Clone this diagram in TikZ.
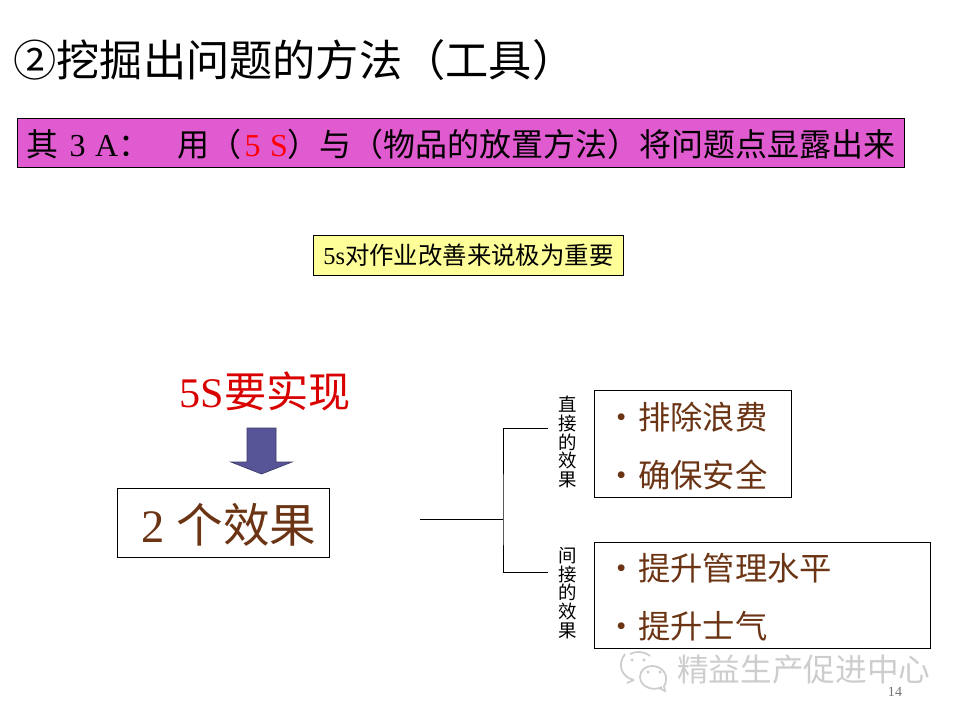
\documentclass[tikz,border=0pt]{standalone}
\usepackage{fontspec}
\setmainfont{Liberation Serif}
\newfontfamily\cjk{Noto Sans CJK SC}
\usetikzlibrary{positioning,calc}
\definecolor{BannerPink}{RGB}{224,90,208}
\definecolor{NoteYellow}{RGB}{255,255,153}
\definecolor{EffectBrown}{RGB}{107,52,20}
\definecolor{ArrowBlue}{RGB}{88,84,152}
\definecolor{MarkGray}{RGB}{205,205,205}
\tikzset{
  frame/.style={draw=black,line width=0.55pt,inner sep=0pt},
  banner/.style={frame,fill=BannerPink,minimum width=17.76cm,minimum height=0.98cm,font=\fontsize{18.2}{22}\selectfont},
  note/.style={frame,fill=NoteYellow,minimum width=6.22cm,minimum height=0.8cm,font=\fontsize{13.9}{16}\selectfont},
  item/.style={anchor=west,inner sep=0pt,text=EffectBrown,font=\cjk\fontsize{18.4}{22}\selectfont},
  vlab/.style={inner sep=0pt,align=center,font=\cjk\fontsize{10.5}{10.6}\selectfont},
  link/.style={draw=black,line width=0.55pt},
  wmline/.style={draw=MarkGray,line width=1pt},
  wmdot/.style={circle,fill=MarkGray,inner sep=0.7pt},
}
\begin{document}
\begin{tikzpicture}[x=0.02cm,y=-0.02cm]
\useasboundingbox (0,0) rectangle (960,720);
\node[anchor=west,inner sep=0pt,font=\cjk\fontsize{24.6}{29}\selectfont] (title) at (13,60) {②挖掘出问题的方法（工具）};
\node[banner] (banner) at (461,142.5) {\raisebox{0pt}[\dimexpr\height+2.2pt]{{\cjk 其}\hspace{0.35em}3\hspace{0.3em}A{\cjk ：}\hspace{0.85em}{\cjk 用（}\hspace{0.1em}{\color{red}5\hspace{0.3em}S}{\cjk ）与（物品的放置方法）将问题点显露出来}}};
\node[note] (note) at (468.5,255) {5s{\cjk 对作业改善来说极为重要}};
\node[inner sep=0pt,text=red!85!black,font=\fontsize{24}{28}\selectfont] (goal) at (265,391) {5S{\cjk 要实现}};
\draw[fill=ArrowBlue,draw=ArrowBlue!70!black,line width=0.4pt] (247,428)--(276,428)--(276,462)--(292,462)--(261.5,474)--(231,462)--(247,462)--cycle;
\node[frame,minimum width=4.26cm,minimum height=1.38cm,text=EffectBrown,font=\fontsize{26.5}{30}\selectfont] (effects) at (223.5,522.5) {\hspace{6.2pt}\raisebox{0pt}[\dimexpr\height+2.8pt]{2\hspace{0.25em}{\cjk 个效果}}};
\node[frame,minimum width=3.94cm,minimum height=2.14cm] (directbox) at (692.5,443.5) {};
\node[frame,minimum width=6.74cm,minimum height=2.12cm] (indirectbox) at (762.5,595) {};
\node[item] (waste) at (605.5,417) {・排除浪费};
\node[item] (safety) at (605.5,475) {・确保安全};
\node[item] (manage) at (605.5,568) {・提升管理水平};
\node[item] (morale) at (605.5,626) {・提升士气};
\node[vlab] (directlab) at (568,442) {直\\接\\的\\效\\果};
\node[vlab] (indirectlab) at (568,593) {间\\接\\的\\效\\果};
\coordinate (stem) at (420,519);
\coordinate (fork) at (503,519);
\coordinate (upper) at (548,428);
\coordinate (lower) at (548,572);
\draw[link] (stem)--(fork);
\draw[link] (upper)-|(fork)|-(lower);
% watermark
\draw[wmline] (625,654) .. controls (617,664) and (621,677) .. (634,680);
\draw[wmline] (634,680) -- (627,683);
\draw[wmline] (630,654) .. controls (636,651) and (644,651) .. (650,656);
\draw[wmline] (662,687) .. controls (652,692) and (640,686) .. (640,677) .. controls (640,670) and (646,666) .. (652,666) .. controls (660,666) and (667,672) .. (666,680) .. controls (666,683) and (665,685) .. (664,686) -- (665,691) -- (659,688);
\node[wmdot] (dota) at (632,660) {};
\node[wmdot] (dotb) at (644,660) {};
\node[wmdot] (dotc) at (648,672) {};
\node[wmdot] (dotd) at (660,672) {};
\node[anchor=west,inner sep=0pt,text=MarkGray,font=\cjk\fontsize{18}{22}\selectfont] (marktext) at (677,670) {精益生产促进中心};
\node[inner sep=0pt,text=black!55,font=\fontsize{8}{10}\selectfont] (pageno) at (895,692) {14};
\end{tikzpicture}
\end{document}
